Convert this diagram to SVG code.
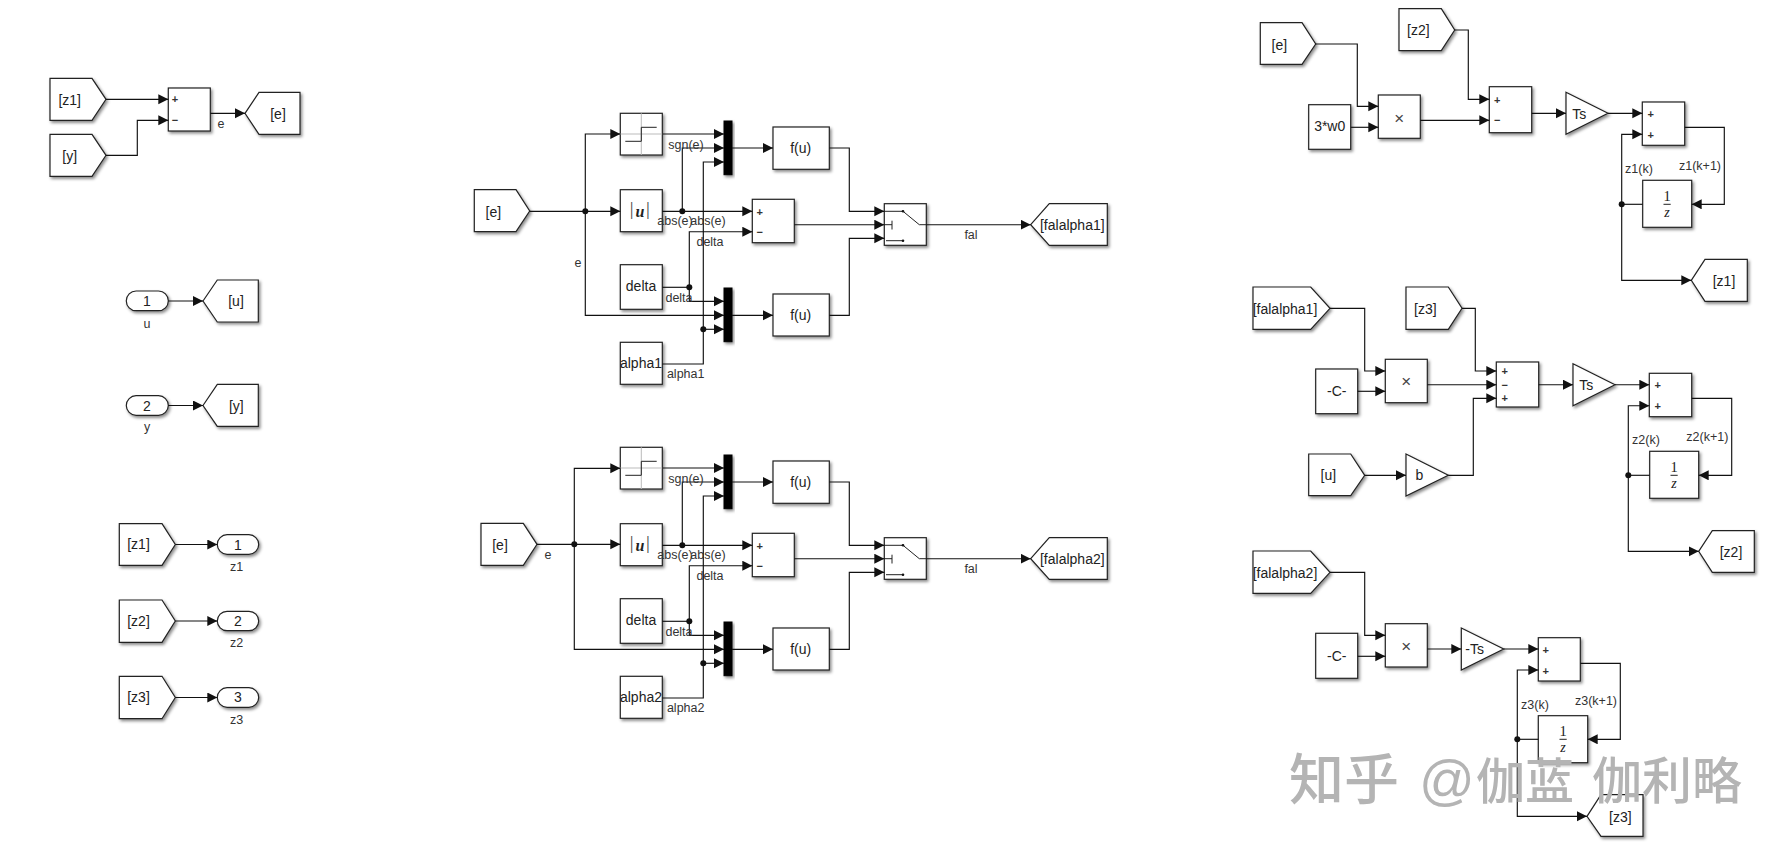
<svg xmlns="http://www.w3.org/2000/svg" width="1786" height="853" viewBox="0 0 1786 853">
<defs>
<filter id="sh" x="-20%" y="-20%" width="150%" height="150%"><feDropShadow dx="1.6" dy="2" stdDeviation="1.4" flood-color="#000" flood-opacity="0.45"/></filter>
<marker id="ah" markerUnits="userSpaceOnUse" markerWidth="11" markerHeight="11" refX="10" refY="5" orient="auto"><path d="M0,0L10,5L0,10Z" fill="#111"/></marker>
</defs>
<style>
.b{fill:#fff;stroke:#222;stroke-width:1.2;filter:url(#sh)}
.m{fill:#000;stroke:#000;filter:url(#sh)}
.w{fill:none;stroke:#111;stroke-width:1.15}
.a{fill:none;stroke:#111;stroke-width:1.15;marker-end:url(#ah)}
.i{fill:none;stroke:#222;stroke-width:1}
.x{fill:none;stroke:#bbb;stroke-width:1}
.j{fill:#111}
text{font-family:"Liberation Sans",Arial,sans-serif;fill:#222}
.t{font-size:14px;text-anchor:middle}
.l{font-size:12.5px;text-anchor:middle;fill:#333}
.s{font-size:11px;text-anchor:middle;font-weight:bold;fill:#333}
.p{font-size:17px;text-anchor:middle;fill:#444}
.r{font-family:"Liberation Serif",serif;font-size:14.5px;text-anchor:middle}
.ri{font-family:"Liberation Serif",serif;font-size:14px;font-style:italic;text-anchor:middle}
.ab{font-family:"Liberation Serif",serif;font-size:19px;text-anchor:middle;fill:#444}
.ab tspan.u{font-size:16px;font-weight:bold;font-style:italic;fill:#222}
.wm{font-family:"Noto Sans CJK SC",sans-serif;fill:#b4b4b4;font-weight:500}
</style>

<g id="nodes">
<!-- left column -->
<g id="from-z1-a"><polygon class="b" points="50,78.3 92,78.3 106,99.3 92,120.3 50,120.3"/><text class="t" x="69.7" y="105">[z1]</text></g>
<g id="from-y-a"><polygon class="b" points="50,134.3 92,134.3 106,155.3 92,176.3 50,176.3"/><text class="t" x="69.7" y="160.5">[y]</text></g>
<g id="sum-e"><rect class="b" x="168.3" y="88" width="42" height="43"/><text class="s" x="175" y="103">+</text><text class="s" x="175" y="124">−</text></g>
<g id="goto-e"><polygon class="b" points="245,113.3 259,92.3 300,92.3 300,134.3 259,134.3"/><text class="t" x="278" y="119">[e]</text></g>

<g id="in-u"><rect class="b" x="126.3" y="291" width="42" height="19.7" rx="9.8"/><text class="t" x="147" y="306">1</text></g>
<g id="goto-u"><polygon class="b" points="203,301 217.3,280 258.3,280 258.3,322 217.3,322"/><text class="t" x="236" y="306">[u]</text></g>
<g id="in-y"><rect class="b" x="126.3" y="395.7" width="42" height="19.6" rx="9.8"/><text class="t" x="147" y="410.5">2</text></g>
<g id="goto-y"><polygon class="b" points="203,405.5 217.3,384.3 258.3,384.3 258.3,426.3 217.3,426.3"/><text class="t" x="236.3" y="411">[y]</text></g>

<g id="from-z1-b"><polygon class="b" points="119.3,523.7 162,523.7 175.3,544.5 162,565.3 119.3,565.3"/><text class="t" x="138.5" y="549">[z1]</text></g>
<g id="out-z1"><rect class="b" x="217.3" y="534.7" width="41.4" height="19.6" rx="9.8"/><text class="t" x="238" y="549.5">1</text></g>
<g id="from-z2-b"><polygon class="b" points="119.3,600 162,600 175.3,621 162,642.3 119.3,642.3"/><text class="t" x="138.5" y="625.5">[z2]</text></g>
<g id="out-z2"><rect class="b" x="217.3" y="611.3" width="41.4" height="19.4" rx="9.7"/><text class="t" x="238" y="626">2</text></g>
<g id="from-z3-b"><polygon class="b" points="119.3,676.3 162,676.3 175.3,697.5 162,718.7 119.3,718.7"/><text class="t" x="138.5" y="701.5">[z3]</text></g>
<g id="out-z3"><rect class="b" x="217.3" y="687.7" width="41.4" height="19.6" rx="9.8"/><text class="t" x="238" y="702">3</text></g>

<!-- fal 1 -->
<g id="from-e-1"><polygon class="b" points="474.3,189.7 516,189.7 529.7,211 516,231.7 474.3,231.7"/><text class="t" x="493.3" y="216.5">[e]</text></g>
<g id="sign-1"><rect class="b" x="620.3" y="113.3" width="42" height="41.7"/><path class="x" d="M641.3,113.3V155M620.3,134H662.3"/><path class="i" d="M625.3,141.3H641.3V127.3H656.7"/></g>
<g id="abs-1"><rect class="b" x="620.3" y="189.7" width="42" height="42"/><text class="ab" y="215"><tspan x="631.7">|</tspan><tspan class="u" x="640" y="216.5">u</tspan><tspan x="648" y="215">|</tspan></text></g>
<g id="delta-1"><rect class="b" x="620.3" y="264.7" width="42" height="44.6"/><text class="t" x="641" y="291">delta</text></g>
<g id="alpha1"><rect class="b" x="620.3" y="342.3" width="42" height="42"/><text class="t" x="641" y="368">alpha1</text></g>
<g id="mux-1a"><rect class="m" x="724" y="121" width="8" height="53.7"/></g>
<g id="mux-1b"><rect class="m" x="724" y="288" width="8" height="53.7"/></g>
<g id="sum-1"><rect class="b" x="752.3" y="199.3" width="42" height="43.4"/><text class="s" x="759.7" y="215.5">+</text><text class="s" x="759.7" y="235.5">−</text></g>
<g id="fu-1a"><rect class="b" x="773" y="127" width="56.3" height="42.3"/><text class="t" x="800.7" y="153">f(u)</text></g>
<g id="fu-1b"><rect class="b" x="773" y="294" width="56.3" height="42"/><text class="t" x="800.7" y="320">f(u)</text></g>
<g id="switch-1"><rect class="b" x="884.3" y="203.7" width="42" height="41.6"/><path class="i" d="M884.3,211.3H903L919.3,224.7H926.3M884.3,224.7H892M892,220.7V229.5M886,240.7H903"/><circle class="j" cx="903" cy="211.3" r="1.3"/><circle class="j" cx="903" cy="240.7" r="1.3"/></g>
<g id="goto-fal1"><polygon class="b" points="1030.7,224.7 1049.3,203.7 1107.3,203.7 1107.3,245.3 1049.3,245.3"/><text class="t" x="1072.3" y="230">[falalpha1]</text></g>

<!-- fal 2 -->
<g id="from-e-2"><polygon class="b" points="481,523.3 523.3,523.3 537,544.3 523.3,565.3 481,565.3"/><text class="t" x="500" y="549.7">[e]</text></g>
<g id="sign-2"><rect class="b" x="620.3" y="447.3" width="42" height="41.7"/><path class="x" d="M641.3,447.3V489M620.3,468H662.3"/><path class="i" d="M625.3,475.3H641.3V461.3H656.7"/></g>
<g id="abs-2"><rect class="b" x="620.3" y="523.7" width="42" height="42"/><text class="ab" y="549"><tspan x="631.7">|</tspan><tspan class="u" x="640" y="550.5">u</tspan><tspan x="648" y="549">|</tspan></text></g>
<g id="delta-2"><rect class="b" x="620.3" y="598.7" width="42" height="44.6"/><text class="t" x="641" y="625">delta</text></g>
<g id="alpha2"><rect class="b" x="620.3" y="676.3" width="42" height="42"/><text class="t" x="641" y="702">alpha2</text></g>
<g id="mux-2a"><rect class="m" x="724" y="455" width="8" height="53.7"/></g>
<g id="mux-2b"><rect class="m" x="724" y="622" width="8" height="53.7"/></g>
<g id="sum-2"><rect class="b" x="752.3" y="533.3" width="42" height="43.4"/><text class="s" x="759.7" y="549.5">+</text><text class="s" x="759.7" y="569.5">−</text></g>
<g id="fu-2a"><rect class="b" x="773" y="461" width="56.3" height="42.3"/><text class="t" x="800.7" y="487">f(u)</text></g>
<g id="fu-2b"><rect class="b" x="773" y="628" width="56.3" height="42"/><text class="t" x="800.7" y="654">f(u)</text></g>
<g id="switch-2"><rect class="b" x="884.3" y="537.7" width="42" height="41.6"/><path class="i" d="M884.3,545.3H903L919.3,558.7H926.3M884.3,558.7H892M892,554.7V563.5M886,574.7H903"/><circle class="j" cx="903" cy="545.3" r="1.3"/><circle class="j" cx="903" cy="574.7" r="1.3"/></g>
<g id="goto-fal2"><polygon class="b" points="1030.7,558.7 1049.3,537.7 1107.3,537.7 1107.3,579.3 1049.3,579.3"/><text class="t" x="1072.3" y="564">[falalpha2]</text></g>

<!-- z1 -->
<g id="from-e-r"><polygon class="b" points="1260.3,22.7 1302,22.7 1315.7,44 1302,64.3 1260.3,64.3"/><text class="t" x="1279.3" y="49.5">[e]</text></g>
<g id="w0"><rect class="b" x="1308.7" y="104.7" width="42" height="44.6"/><text class="t" x="1329.7" y="131">3*w0</text></g>
<g id="prod-1"><rect class="b" x="1378.3" y="95" width="42" height="43.3"/><text class="p" x="1399.3" y="123.5">×</text></g>
<g id="from-z2-r"><polygon class="b" points="1399,8.7 1441.3,8.7 1454.7,30 1441.3,50.7 1399,50.7"/><text class="t" x="1418.3" y="35">[z2]</text></g>
<g id="sum-z1a"><rect class="b" x="1489.3" y="86.7" width="42.4" height="46"/><text class="s" x="1497.3" y="104">+</text><text class="s" x="1497.3" y="124">−</text></g>
<g id="ts-1"><polygon class="b" points="1566,92.3 1608,113.3 1566,134.3"/><text class="t" x="1579.3" y="119">Ts</text></g>
<g id="sum-z1b"><rect class="b" x="1642.3" y="102" width="42.4" height="43.3"/><text class="s" x="1650.7" y="117.5">+</text><text class="s" x="1650.7" y="138.5">+</text></g>
<g id="delay-1"><rect class="b" x="1642.7" y="180.3" width="49" height="47"/><text class="r" x="1667" y="200.5">1</text><path class="i" d="M1663.5,204.3H1670.7"/><text class="ri" x="1667" y="216.5">z</text></g>
<g id="goto-z1"><polygon class="b" points="1691.3,280.3 1705,259.3 1747.3,259.3 1747.3,301.3 1705,301.3"/><text class="t" x="1724" y="285.5">[z1]</text></g>

<!-- z2 -->
<g id="from-fal1"><polygon class="b" points="1253,287 1310.7,287 1330,308.3 1310.7,329.3 1253,329.3"/><text class="t" x="1285" y="313.5">[falalpha1]</text></g>
<g id="c-1"><rect class="b" x="1315.7" y="369" width="42" height="44.7"/><text class="t" x="1336.7" y="396">-C-</text></g>
<g id="prod-2"><rect class="b" x="1385.3" y="359.3" width="42" height="43.4"/><text class="p" x="1406.3" y="387">×</text></g>
<g id="from-z3-r"><polygon class="b" points="1406,287 1448.3,287 1462,308.3 1448.3,329.3 1406,329.3"/><text class="t" x="1425.3" y="313.5">[z3]</text></g>
<g id="from-u"><polygon class="b" points="1308.7,454 1350.7,454 1364.7,475.3 1350.7,495.7 1308.7,495.7"/><text class="t" x="1328.3" y="479.5">[u]</text></g>
<g id="gain-b"><polygon class="b" points="1406,454 1448.3,475.3 1406,496"/><text class="t" x="1419.3" y="480">b</text></g>
<g id="sum-z2a"><rect class="b" x="1496.3" y="362" width="42.4" height="45"/><text class="s" x="1504.7" y="375">+</text><text class="s" x="1504.7" y="388.5">−</text><text class="s" x="1504.7" y="402">+</text></g>
<g id="ts-2"><polygon class="b" points="1573,363.7 1615,384.7 1573,405.7"/><text class="t" x="1586.3" y="390">Ts</text></g>
<g id="sum-z2b"><rect class="b" x="1649.3" y="373.3" width="42.4" height="43.4"/><text class="s" x="1657.7" y="389">+</text><text class="s" x="1657.7" y="410">+</text></g>
<g id="delay-2"><rect class="b" x="1649.7" y="451.3" width="49" height="47"/><text class="r" x="1674" y="471.5">1</text><path class="i" d="M1670.5,475.3H1677.7"/><text class="ri" x="1674" y="487.5">z</text></g>
<g id="goto-z2"><polygon class="b" points="1698.7,551.3 1712.3,530.7 1754.3,530.7 1754.3,572.3 1712.3,572.3"/><text class="t" x="1731" y="556.5">[z2]</text></g>

<!-- z3 -->
<g id="from-fal2"><polygon class="b" points="1253,551 1310.7,551 1330,572.3 1310.7,593.3 1253,593.3"/><text class="t" x="1285" y="577.5">[falalpha2]</text></g>
<g id="c-2"><rect class="b" x="1315.7" y="633.3" width="42" height="45"/><text class="t" x="1336.7" y="660.5">-C-</text></g>
<g id="prod-3"><rect class="b" x="1385.3" y="623.7" width="42" height="43.3"/><text class="p" x="1406.3" y="651.5">×</text></g>
<g id="ts-3"><polygon class="b" points="1461.3,628 1503.7,649 1461.3,670"/><text class="t" x="1474.7" y="654">-Ts</text></g>
<g id="sum-z3"><rect class="b" x="1538.3" y="637.7" width="42" height="43.3"/><text class="s" x="1545.7" y="653.5">+</text><text class="s" x="1545.7" y="674.5">+</text></g>
<g id="delay-3"><rect class="b" x="1538.3" y="715.7" width="49.4" height="47"/><text class="r" x="1563" y="735.5">1</text><path class="i" d="M1559.5,739.3H1566.7"/><text class="ri" x="1563" y="751.5">z</text></g>
<g id="goto-z3"><polygon class="b" points="1587,816.3 1601,794.7 1643,794.7 1643,836.3 1601,836.3"/><text class="t" x="1620.3" y="821.5">[z3]</text></g>
</g>

<g id="connectors">
<path class="a" d="M106,99.3H168.3"/>
<path class="a" d="M106,155.3H137.3V120.3H168.3"/>
<path class="a" d="M210.3,113.3H245"/>
<path class="a" d="M168.3,301H203"/>
<path class="a" d="M168.3,405.5H203"/>
<path class="a" d="M175.3,544.5H217.3"/>
<path class="a" d="M175.3,621H217.3"/>
<path class="a" d="M175.3,697.5H217.3"/>

<path class="a" d="M529.7,211.3H620.3"/>
<path class="a" d="M585.3,211.3V134H620.3"/>
<path class="a" d="M585.3,211.3V315.3H724"/>
<path class="a" d="M662.3,134H724"/>
<path class="a" d="M662.3,211.3H752.3"/>
<path class="a" d="M682.3,211.3V148H724"/>
<path class="w" d="M662.3,287.3H689.3"/>
<path class="a" d="M689.3,287.3V231.7H752.3"/>
<path class="a" d="M689.3,287.3V301.3H724"/>
<path class="w" d="M662.3,364H703.3V329.3"/>
<path class="a" d="M703.3,329.3V162H724"/>
<path class="a" d="M703.3,329.3H724"/>
<path class="a" d="M732,148H773"/>
<path class="a" d="M732,315.3H773"/>
<path class="a" d="M829.3,148H849.3V211.3H884.3"/>
<path class="a" d="M829.3,315.3H849.3V238.3H884.3"/>
<path class="a" d="M794.3,224.7H884.3"/>
<path class="a" d="M926.3,224.7H1030.7"/>
<circle class="j" cx="585.3" cy="211.3" r="3"/><circle class="j" cx="682.3" cy="211.3" r="3"/><circle class="j" cx="689.3" cy="287.3" r="3"/><circle class="j" cx="703.3" cy="329.3" r="3"/>

<path class="a" d="M537,544.3H620.3"/>
<path class="a" d="M574.3,544.3V468.3H620.3"/>
<path class="a" d="M574.3,544.3V649.3H724"/>
<path class="a" d="M662.3,468H724"/>
<path class="a" d="M662.3,545.3H752.3"/>
<path class="a" d="M682.3,545.3V482H724"/>
<path class="w" d="M662.3,621.3H689.3"/>
<path class="a" d="M689.3,621.3V565.7H752.3"/>
<path class="a" d="M689.3,621.3V635.3H724"/>
<path class="w" d="M662.3,698H703.3V663.3"/>
<path class="a" d="M703.3,663.3V496H724"/>
<path class="a" d="M703.3,663.3H724"/>
<path class="a" d="M732,482H773"/>
<path class="a" d="M732,649.3H773"/>
<path class="a" d="M829.3,482H849.3V545.3H884.3"/>
<path class="a" d="M829.3,649.3H849.3V572.3H884.3"/>
<path class="a" d="M794.3,558.7H884.3"/>
<path class="a" d="M926.3,558.7H1030.7"/>
<circle class="j" cx="574.3" cy="544.3" r="3"/><circle class="j" cx="682.3" cy="545.3" r="3"/><circle class="j" cx="689.3" cy="621.3" r="3"/><circle class="j" cx="703.3" cy="663.3" r="3"/>

<path class="a" d="M1315.7,44H1357.3V106.3H1378.3"/>
<path class="a" d="M1350.7,127.3H1378.3"/>
<path class="a" d="M1420.3,120.3H1489.3"/>
<path class="a" d="M1454.7,30H1468.3V99.3H1489.3"/>
<path class="a" d="M1531.7,113.3H1566"/>
<path class="a" d="M1608,113.3H1642.3"/>
<path class="a" d="M1684.7,127.3H1724.3V204.3H1691.7"/>
<path class="w" d="M1642.7,204.3H1621.7"/>
<path class="a" d="M1621.7,204.3V134.3H1642.3"/>
<path class="a" d="M1621.7,204.3V280.3H1691.3"/>
<circle class="j" cx="1621.7" cy="204.3" r="3"/>

<path class="a" d="M1330,308.3H1364.7V371H1385.3"/>
<path class="a" d="M1357.7,391.3H1385.3"/>
<path class="a" d="M1427.3,384.7H1496.3"/>
<path class="a" d="M1462,308.3H1475.3V371H1496.3"/>
<path class="a" d="M1364.7,475.3H1406"/>
<path class="a" d="M1448.3,475.3H1473.3V398.3H1496.3"/>
<path class="a" d="M1538.7,384.7H1573"/>
<path class="a" d="M1615,384.7H1649.3"/>
<path class="a" d="M1691.7,398.3H1731.7V475.3H1698.7"/>
<path class="w" d="M1649.7,475.3H1628.3"/>
<path class="a" d="M1628.3,475.3V405.7H1649.3"/>
<path class="a" d="M1628.3,475.3V551.3H1698.7"/>
<circle class="j" cx="1628.3" cy="475.3" r="3"/>

<path class="a" d="M1330,572.3H1364.7V635.3H1385.3"/>
<path class="a" d="M1357.7,656.3H1385.3"/>
<path class="a" d="M1427.3,649H1461.3"/>
<path class="a" d="M1503.7,649H1538.3"/>
<path class="a" d="M1580.3,663.3H1620.3V739.3H1587.7"/>
<path class="w" d="M1538.3,739.3H1517.3"/>
<path class="a" d="M1517.3,739.3V670H1538.3"/>
<path class="a" d="M1517.3,739.3V816.3H1587"/>
<circle class="j" cx="1517.3" cy="739.3" r="3"/>
</g>

<g id="labels">
<text class="l" x="221" y="128.3">e</text>
<text class="l" x="147" y="327.8">u</text>
<text class="l" x="147" y="431">y</text>
<text class="l" x="236.7" y="571">z1</text>
<text class="l" x="236.7" y="647.3">z2</text>
<text class="l" x="236.7" y="723.7">z3</text>

<text class="l" x="686" y="149.3">sgn(e)</text>
<text class="l" x="675" y="225.3">abs(e)</text>
<text class="l" x="708" y="225.3">abs(e)</text>
<text class="l" x="710" y="246">delta</text>
<text class="l" x="679" y="302">delta</text>
<text class="l" x="685.7" y="377.7">alpha1</text>
<text class="l" x="578" y="266.7">e</text>
<text class="l" x="971" y="238.7">fal</text>

<text class="l" x="686" y="483.3">sgn(e)</text>
<text class="l" x="675" y="559.3">abs(e)</text>
<text class="l" x="708" y="559.3">abs(e)</text>
<text class="l" x="710" y="580">delta</text>
<text class="l" x="679" y="636">delta</text>
<text class="l" x="685.7" y="711.7">alpha2</text>
<text class="l" x="548" y="558.7">e</text>
<text class="l" x="971" y="572.7">fal</text>

<text class="l" x="1639" y="172.7">z1(k)</text>
<text class="l" x="1700" y="170">z1(k+1)</text>
<text class="l" x="1646" y="444.3">z2(k)</text>
<text class="l" x="1707.3" y="441">z2(k+1)</text>
<text class="l" x="1535" y="709">z3(k)</text>
<text class="l" x="1596" y="705">z3(k+1)</text>
</g>

<g id="watermark">
<text class="wm" x="1289" y="799" font-size="55">知乎</text>
<text class="wm" x="1419" y="799" font-size="55" style="font-family:'Liberation Sans',sans-serif">@</text>
<text class="wm" x="1476" y="799" font-size="49">伽蓝</text>
<text class="wm" x="1592" y="799" font-size="50">伽利略</text>
</g>
</svg>
